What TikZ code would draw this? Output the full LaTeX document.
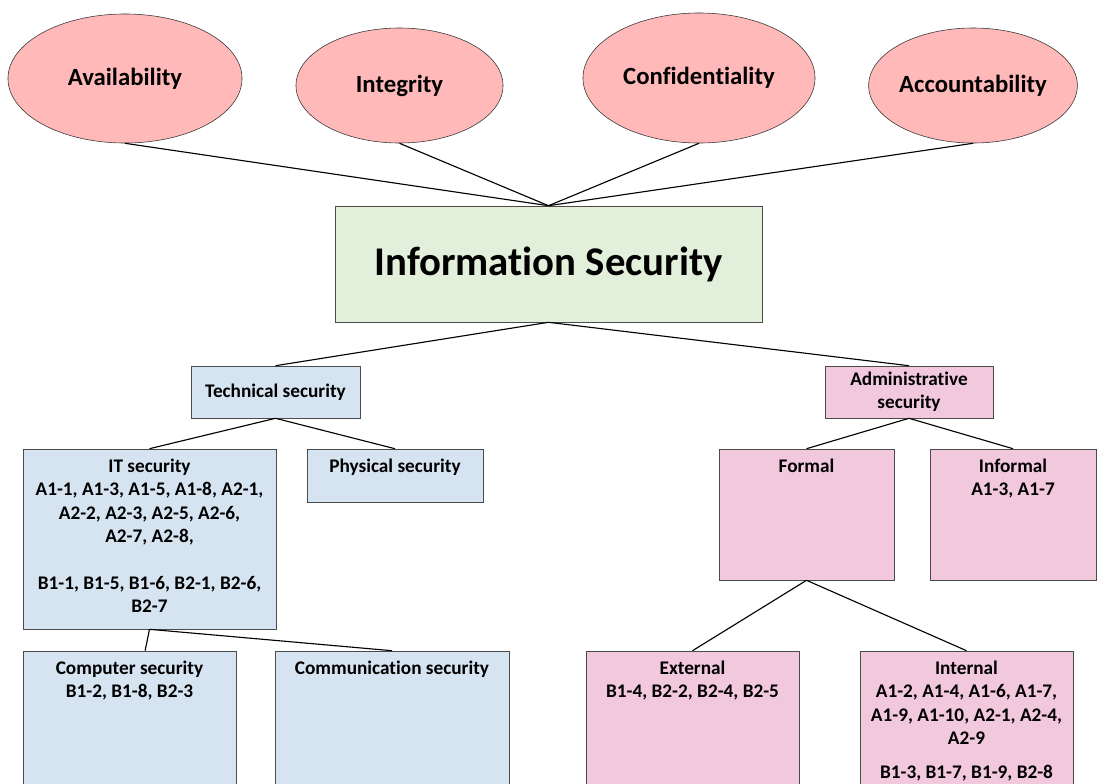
\documentclass[tikz,border=0pt]{standalone}
\usepackage{fontspec}
\setmainfont{Carlito}[Ligatures=NoCommon]
\usetikzlibrary{shapes.geometric}
\definecolor{ellfill}{RGB}{255,185,185}
\definecolor{titlefill}{RGB}{226,239,218}
\definecolor{techfill}{RGB}{214,228,242}
\definecolor{admfill}{RGB}{242,200,221}
\definecolor{edge}{RGB}{75,75,75}
\tikzset{
  goal/.style={draw=black!80, ellipse, fill=ellfill, inner sep=0pt,
    font=\fontsize{17.6}{21}\selectfont\bfseries},
  box/.style={draw=edge, rectangle, align=flush center, inner sep=0pt,
    font=\fontsize{13.7}{16.6}\selectfont\bfseries},
  topbox/.style={box, inner xsep=0.05cm, text height=16.6pt, text depth=#1-16.6pt, minimum height=#1},
}
\begin{document}
\begin{tikzpicture}[x=0.025cm, y=-0.025cm]
\clip (0,0) rectangle (1097,783);
\node[box, fill=titlefill, minimum width=10.675cm, minimum height=2.9cm,
  font=\fontsize{29}{34}\selectfont\bfseries] (1) at (548.5,264) {Information Security};
\node[goal, minimum width=5.85cm, minimum height=3.225cm] (2) at (125,78.5) {Availability};
\node[goal, minimum width=5.175cm, minimum height=2.875cm] (3) at (399.5,85.5) {Integrity};
\node[goal, minimum width=5.8cm, minimum height=3.25cm] (4) at (699,78) {Confidentiality};
\node[goal, minimum width=5.2cm, minimum height=2.875cm] (5) at (973,85.5) {Accountability};
\node[box, fill=techfill, minimum width=4.225cm, minimum height=1.3cm] (6) at (275.5,392) {Technical security};
\node[box, fill=admfill, minimum width=4.2cm, minimum height=1.3cm] (7) at (909,392) {Administrative\\security};
\node[topbox=4.5cm, fill=techfill, text width=6.225cm] (8) at (149.5,539)
  {IT security\\A1-1, A1-3, A1-5, A1-8, A2-1,\\A2-2, A2-3, A2-5, A2-6,\\A2-7, A2-8,\\[16.6pt]B1-1, B1-5, B1-6, B2-1, B2-6,\\B2-7};
\node[topbox=1.325cm, fill=techfill, text width=4.3cm] (9) at (395,475.5) {Physical security};
\node[topbox=3.275cm, fill=admfill, text width=4.275cm] (10) at (806.5,514.5) {Formal};
\node[topbox=3.275cm, fill=admfill, text width=4.05cm] (11) at (1013,514.5) {Informal\\A1-3, A1-7};
\node[topbox=3.75cm, fill=techfill, text width=5.225cm] (12) at (129.5,726) {Computer security\\B1-2, B1-8, B2-3};
\node[topbox=3.75cm, fill=techfill, text width=5.75cm] (13) at (392,726) {Communication security};
\node[topbox=3.75cm, fill=admfill, text width=5.225cm] (14) at (692.5,726) {External\\B1-4, B2-2, B2-4, B2-5};
\node[topbox=3.75cm, fill=admfill, text width=5.225cm] (15) at (966.5,726)
  {Internal\\A1-2, A1-4, A1-6, A1-7,\\A1-9, A1-10, A2-1, A2-4,\\A2-9\\[8pt]B1-3, B1-7, B1-9, B2-8};
\path[draw,thick,-] (2.south) -- (1.north);
\path[draw,thick,-] (3.south) -- (1.north);
\path[draw,thick,-] (4.south) -- (1.north);
\path[draw,thick,-] (5.south) -- (1.north);
\path[draw,thick,-] (1.south) -- (6.north);
\path[draw,thick,-] (1.south) -- (7.north);
\path[draw,thick,-] (6.south) -- (8.north);
\path[draw,thick,-] (6.south) -- (9.north);
\path[draw,thick,-] (7.south) -- (10.north);
\path[draw,thick,-] (7.south) -- (11.north);
\path[draw,thick,-] (8.south) -- ([xshift=0.39cm]12.north);
\path[draw,thick,-] (8.south) -- (13.north);
\path[draw,thick,-] (10.south) -- (14.north);
\path[draw,thick,-] (10.south) -- (15.north);
\end{tikzpicture}
\end{document}
